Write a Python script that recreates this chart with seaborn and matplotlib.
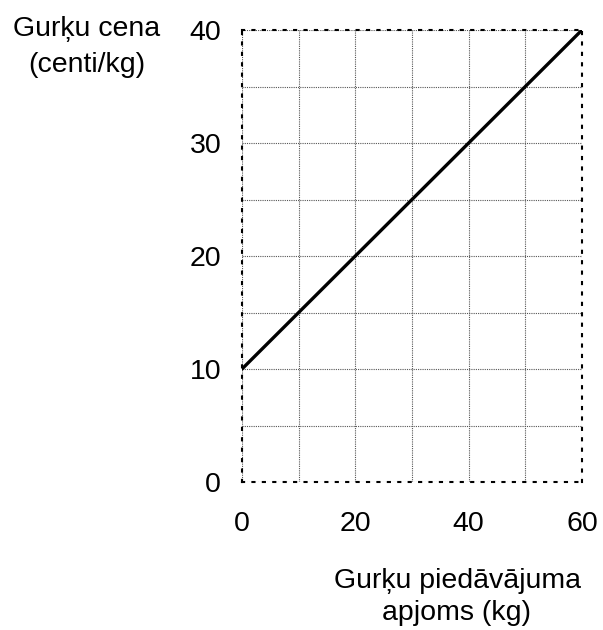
import matplotlib
matplotlib.use("Agg")
import matplotlib.pyplot as plt
import seaborn as sns
import pandas as pd

# Supply line data
quantity = [0, 60]
price = [10, 40]
x_ticks = [0, 20, 40, 60]
y_ticks = [0, 10, 20, 30, 40]

sns.set_theme(style="white")
plt.rcParams['font.family'] = ['Liberation Sans', 'DejaVu Sans']
plt.rcParams['text.color'] = 'black'

df = pd.DataFrame({'quantity': quantity, 'price': price})

fig = plt.figure(figsize=(6.03, 6.3), dpi=100)
ax = fig.add_axes([242 / 603, 1 - 482 / 630, 340 / 603, 452 / 630])

sns.lineplot(data=df, x='quantity', y='price', ax=ax, color='black', linewidth=2.4)

ax.set_xlim(0, 60)
ax.set_ylim(0, 40)
ax.set_xticks(x_ticks)
ax.set_yticks(y_ticks)
ax.set_xticks(range(10, 60, 20), minor=True)
ax.set_yticks(range(5, 40, 10), minor=True)
ax.grid(True, which='both', color='#555555', linestyle=(0, (1, 1)), linewidth=0.8)
ax.tick_params(axis='both', which='both', length=0, labelsize=20.5, colors='black')
ax.tick_params(axis='x', pad=21)
ax.tick_params(axis='y', pad=15)

for s in ax.spines.values():
    s.set_linestyle((0, (1, 4)))
    s.set_linewidth(1.5)
    s.set_color('black')

ax.set_xlabel('')
ax.set_ylabel('')
fig.text(87 / 603, 1 - 47 / 630, 'Gurķu cena\n(centi/kg)', ha='center', va='center',
         fontsize=20.5, linespacing=1.45)
fig.text(457 / 603, 1 - 597 / 630, 'Gurķu piedāvājuma\napjoms (kg)', ha='center', va='center',
         fontsize=20.5, linespacing=1.35)

fig.savefig('out.png', dpi=100)
